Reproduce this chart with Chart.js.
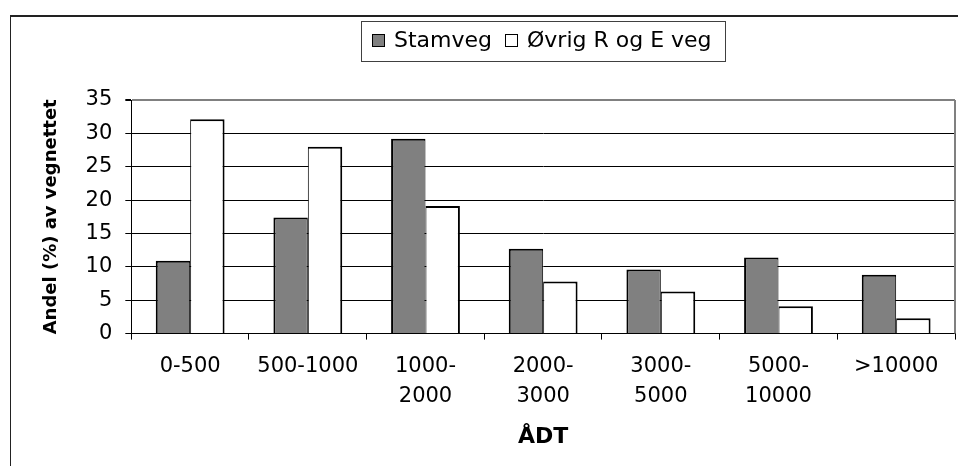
<!DOCTYPE html>
<html>
<head>
<meta charset="utf-8">
<script src="https://cdn.jsdelivr.net/npm/chart.js@4.4.0/dist/chart.umd.min.js"></script>
<style>
  body { margin: 0; background: #fff; }
  #wrap { position: relative; width: 958px; height: 466px; overflow: hidden; }
  #frame { position: absolute; left: 10px; top: 15px; width: 1000px; height: 1000px;
           border-left: 1px solid #222; border-top: 2px solid #222; }
  #graph { position: absolute; left: 0; top: 0; }
</style>
</head>
<body>
<div id="wrap">
  <div id="frame"></div>
  <canvas id="graph" width="958" height="466"></canvas>
</div>
<script>
var categories = ["0-500", "500-1000", ["1000-", "2000"], ["2000-", "3000"], ["3000-", "5000"], ["5000-", "10000"], ">10000"];
var stamveg = [10.9, 17.4, 29.2, 12.7, 9.6, 11.4, 8.8];
var ovrig = [32.1, 28.0, 19.1, 7.8, 6.3, 4.1, 2.3];
var seriesNames = ["Stamveg", "Øvrig R og E veg"];
var yMin = 0, yMax = 35, yStep = 5;

var fontFamily = '"DejaVu Sans", sans-serif';

// legend box + grey plot border on the right
var frameBits = {
    id: "frameBits",
    beforeDatasetsDraw: function(chart) {
        var ctx = chart.ctx;
        var area = chart.chartArea;
        ctx.save();
        ctx.strokeStyle = "#808080";
        ctx.lineWidth = 2;
        ctx.beginPath();
        ctx.moveTo(area.right, area.top);
        ctx.lineTo(area.right, area.bottom);
        ctx.stroke();
        ctx.restore();
    },
    afterDraw: function(chart) {
        var ctx = chart.ctx;
        var area = chart.chartArea;
        var sets = chart.data.datasets;
        var sq = 13, gap = 9, between = 13, pad = 11;
        ctx.save();
        ctx.font = "22px " + fontFamily;
        var widths = sets.map(function(d) { return ctx.measureText(d.label).width; });
        var total = 0;
        widths.forEach(function(w, i) { total += sq + gap + w + (i > 0 ? between : 0); });
        var boxW = Math.round(total + pad * 2 + 2);
        var left = Math.round((area.left + area.right) / 2 - boxW / 2);
        ctx.strokeStyle = "#404040";
        ctx.lineWidth = 1;
        ctx.strokeRect(left + 0.5, 21.5, boxW, 40);
        var x = left + pad;
        ctx.textBaseline = "alphabetic";
        ctx.fillStyle = "#000";
        sets.forEach(function(d, i) {
            ctx.fillStyle = d.backgroundColor;
            ctx.fillRect(Math.round(x), 34, sq, sq);
            ctx.strokeStyle = "#000";
            ctx.strokeRect(Math.round(x) + 0.5, 34.5, sq - 1, sq - 1);
            ctx.fillStyle = "#000";
            ctx.fillText(d.label, x + sq + gap, 47);
            x += sq + gap + widths[i] + between;
        });
        ctx.restore();
    }
};

var ctx = document.getElementById("graph").getContext("2d");
var chart = new Chart(ctx, {
    type: "bar",
    data: {
        labels: categories,
        datasets: [
            {
                label: seriesNames[0],
                data: stamveg,
                backgroundColor: "#808080",
                borderColor: "#000",
                borderWidth: { top: 2, left: 2, right: 1, bottom: 0 },
                borderSkipped: false
            },
            {
                label: seriesNames[1],
                data: ovrig,
                backgroundColor: "#ffffff",
                borderColor: "#000",
                borderWidth: { top: 2, left: 1, right: 2, bottom: 0 },
                borderSkipped: false
            }
        ]
    },
    options: {
        responsive: false,
        animation: false,
        categoryPercentage: 0.585,
        barPercentage: 1,
        layout: { padding: { top: 100, left: 41, right: 3, bottom: 12 } },
        plugins: {
            legend: { display: false },
            tooltip: { enabled: false }
        },
        scales: {
            x: {
                grid: { offset: true, drawOnChartArea: false, tickLength: 6, color: "#000", tickColor: "#000" },
                border: { color: "#000", width: 1 },
                ticks: {
                    font: { family: fontFamily, size: 21, lineHeight: 30 / 21 },
                    color: "#000",
                    padding: 12,
                    maxRotation: 0,
                    autoSkip: false
                },
                title: {
                    display: true,
                    text: "ÅDT",
                    color: "#000",
                    font: { family: fontFamily, size: 22, weight: "bold", lineHeight: 1.2 },
                    padding: { top: 0, bottom: 4 }
                }
            },
            y: {
                min: yMin,
                max: yMax,
                ticks: {
                    stepSize: yStep,
                    font: { family: fontFamily, size: 21 },
                    color: "#000",
                    padding: 13
                },
                grid: {
                    color: function(c) { return c.tick && c.tick.value === yMax ? "#808080" : "#000"; },
                    lineWidth: function(c) { return c.tick && c.tick.value === yMax ? 2 : 1; },
                    tickLength: 6,
                    tickColor: "#000"
                },
                border: { color: "#000", width: 1 },
                title: {
                    display: true,
                    text: "Andel (%) av vegnettet",
                    color: "#000",
                    font: { family: fontFamily, size: 18, weight: "bold", lineHeight: 1.2 },
                    padding: { top: 0, bottom: 10 }
                }
            }
        }
    },
    plugins: [frameBits]
});
</script>
</body>
</html>
